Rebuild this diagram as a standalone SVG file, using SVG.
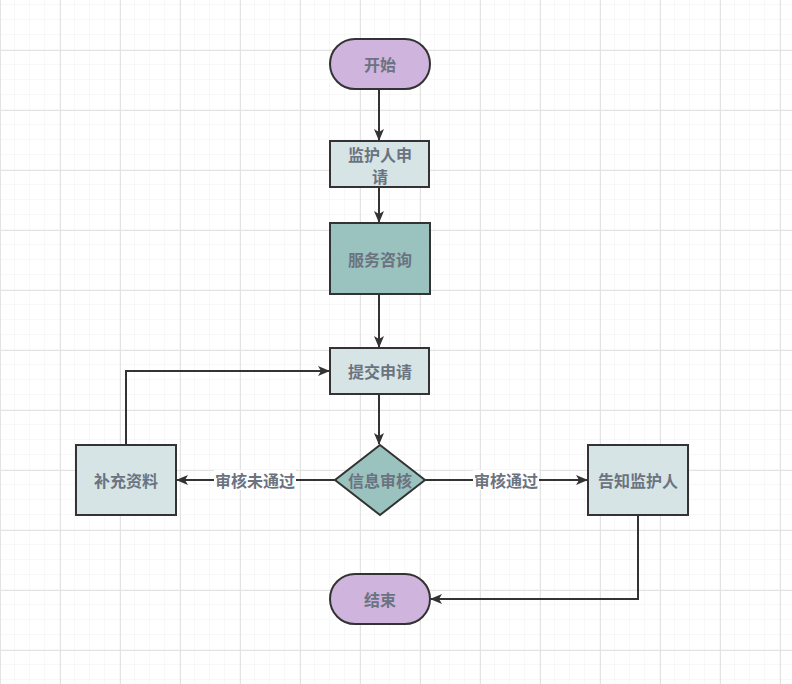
<svg xmlns="http://www.w3.org/2000/svg" width="792" height="684" viewBox="0 0 792 684">
  <defs>
    <pattern id="minor" width="15" height="15" patternUnits="userSpaceOnUse" x="0" y="5">
      <path d="M15 0V15M0 15H15" fill="none" stroke="#f0f0f0" stroke-width="1"/>
    </pattern>
    <pattern id="major" width="60" height="60" patternUnits="userSpaceOnUse" x="0" y="50">
      <path d="M0.5 0V60M0 0.5H60" fill="none" stroke="#e3e3e3" stroke-width="1"/>
    </pattern>
    <marker id="arrow" viewBox="0 0 12 10" refX="11" refY="5" markerWidth="12" markerHeight="10" markerUnits="userSpaceOnUse" orient="auto">
      <path d="M0 0L12 5L0 10L3 5Z" fill="#333333"/>
    </marker>
  </defs>
  <style>
    .node { stroke: #333333; stroke-width: 2; }
    .term { fill: #cfb4dd; }
    .light { fill: #d6e4e6; }
    .dark { fill: #9ac2bf; }
    .label { font-family: "Noto Sans CJK SC", "Liberation Sans", sans-serif; font-size: 16px; font-weight: bold; fill: #6b7380; text-anchor: middle; dominant-baseline: central; }
    .edge { fill: none; stroke: #333333; stroke-width: 2; marker-end: url(#arrow); }
    .elabel { font-family: "Noto Sans CJK SC", "Liberation Sans", sans-serif; font-size: 16px; font-weight: bold; fill: #6b7380; text-anchor: middle; dominant-baseline: central; }
  </style>
  <rect width="792" height="684" fill="#ffffff"/>
  <rect width="792" height="684" fill="url(#minor)"/>
  <rect width="792" height="684" fill="url(#major)"/>

  <g id="connectors">
    <path class="edge" d="M379 89V140"/>
    <path class="edge" d="M379 187V222"/>
    <path class="edge" d="M379 294V347"/>
    <path class="edge" d="M379 394V444"/>
    <path class="edge" d="M335 480H177"/>
    <path class="edge" d="M425 480H587"/>
    <path class="edge" d="M126 445V371H329"/>
    <path class="edge" d="M638 515V599H431"/>
    <g id="label-fail">
      <rect x="214" y="470" width="82" height="20" fill="#ffffff"/>
      <text class="elabel" x="255" y="480">审核未通过</text>
    </g>
    <g id="label-pass">
      <rect x="473" y="470" width="66" height="20" fill="#ffffff"/>
      <text class="elabel" x="506" y="480">审核通过</text>
    </g>
  </g>

  <g id="start">
    <rect class="node term" x="330" y="39" width="100" height="50" rx="25" ry="25"/>
    <text class="label" x="380" y="64">开始</text>
  </g>
  <g id="apply">
    <rect class="node light" x="330" y="141" width="99" height="46"/>
    <text class="label" x="380" y="154">监护人申</text>
    <text class="label" x="380" y="176">请</text>
  </g>
  <g id="consult">
    <rect class="node dark" x="330" y="223" width="100" height="71"/>
    <text class="label" x="380" y="259">服务咨询</text>
  </g>
  <g id="submit">
    <rect class="node light" x="330" y="348" width="99" height="46"/>
    <text class="label" x="380" y="371">提交申请</text>
  </g>
  <g id="review">
    <path class="node dark" d="M380 445L425 480L380 515L335 480Z"/>
    <text class="label" x="380" y="480">信息审核</text>
  </g>
  <g id="supplement">
    <rect class="node light" x="76" y="445" width="100" height="70"/>
    <text class="label" x="126" y="480">补充资料</text>
  </g>
  <g id="notify">
    <rect class="node light" x="588" y="445" width="100" height="70"/>
    <text class="label" x="638" y="480">告知监护人</text>
  </g>
  <g id="end">
    <rect class="node term" x="330" y="574" width="100" height="50" rx="25" ry="25"/>
    <text class="label" x="380" y="599">结束</text>
  </g>
</svg>
